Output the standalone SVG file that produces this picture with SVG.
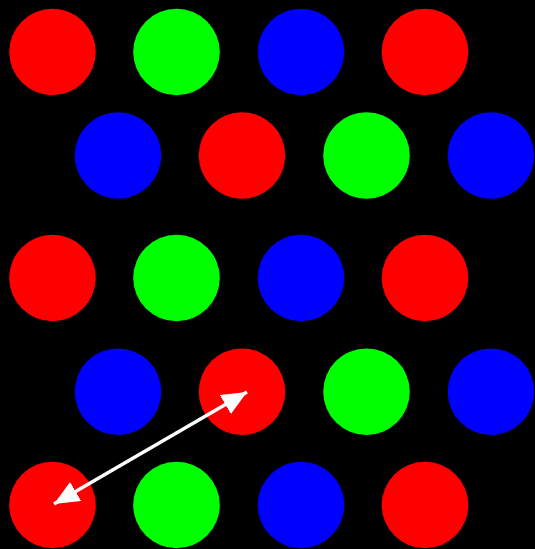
<svg xmlns="http://www.w3.org/2000/svg" width="535" height="549" viewBox="0 0 535 549">
<style>
.r{fill:#ff0000}.g{fill:#00ff00}.b{fill:#0000ff}
.arrow{stroke:#ffffff;stroke-width:3.5;fill:none}
</style>
<defs>
<marker id="ah" markerUnits="userSpaceOnUse" markerWidth="26" markerHeight="22" refX="25" refY="11" orient="auto-start-reverse" viewBox="0 0 26 22">
<path d="M0,0 L25,11 L0,22 z" fill="#ffffff"/>
</marker>
</defs>
<rect width="535" height="549" fill="#000000"/>
<g id="row1">
<circle id="n1" class="r" cx="52.5" cy="52" r="43.3"/>
<circle id="n2" class="g" cx="176.5" cy="52" r="43.3"/>
<circle id="n3" class="b" cx="301" cy="52" r="43.3"/>
<circle id="n4" class="r" cx="425" cy="52" r="43.3"/>
</g>
<g id="row2">
<circle id="n5" class="b" cx="118" cy="155.5" r="43.3"/>
<circle id="n6" class="r" cx="242" cy="155.5" r="43.3"/>
<circle id="n7" class="g" cx="366.5" cy="155.5" r="43.3"/>
<circle id="n8" class="b" cx="491" cy="155.5" r="43.3"/>
</g>
<g id="row3">
<circle id="n9" class="r" cx="52.5" cy="278" r="43.3"/>
<circle id="n10" class="g" cx="176.5" cy="278" r="43.3"/>
<circle id="n11" class="b" cx="301" cy="278" r="43.3"/>
<circle id="n12" class="r" cx="425" cy="278" r="43.3"/>
</g>
<g id="row4">
<circle id="n13" class="b" cx="118" cy="391.7" r="43.3"/>
<circle id="n14" class="r" cx="242" cy="391.7" r="43.3"/>
<circle id="n15" class="g" cx="366.5" cy="391.7" r="43.3"/>
<circle id="n16" class="b" cx="491" cy="391.7" r="43.3"/>
</g>
<g id="row5">
<circle id="n17" class="r" cx="52.5" cy="505" r="43.3"/>
<circle id="n18" class="g" cx="176.5" cy="505" r="43.3"/>
<circle id="n19" class="b" cx="301" cy="505" r="43.3"/>
<circle id="n20" class="r" cx="425" cy="505" r="43.3"/>
</g>
<g id="connectors">
<line class="arrow" x1="54" y1="504" x2="247" y2="392" marker-start="url(#ah)" marker-end="url(#ah)"/>
</g>
</svg>
